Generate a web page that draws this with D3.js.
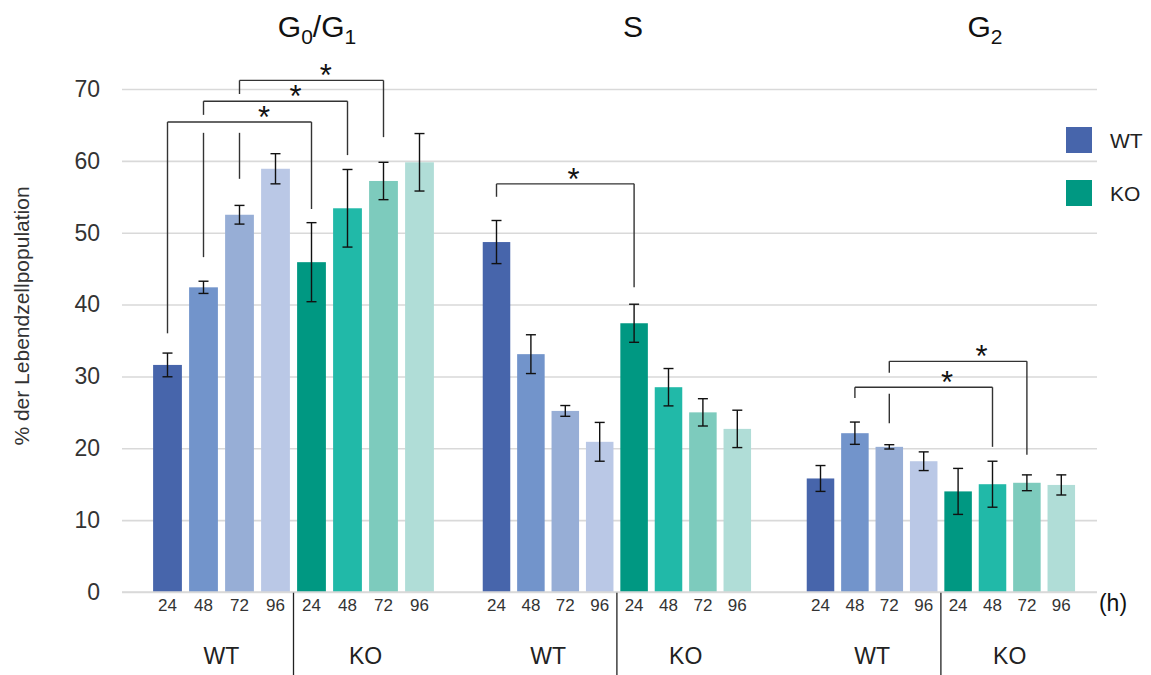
<!DOCTYPE html>
<html>
<head>
<meta charset="utf-8">
<script src="https://cdn.jsdelivr.net/npm/d3@7"></script>
<style>
  body { margin: 0; background: #fff; }
  text { font-family: "Liberation Sans", Arial, sans-serif; }
</style>
</head>
<body>
<div id="chart"></div>
<script>
// ---- data ----
var hours = ["24", "48", "72", "96"];
var genotypes = ["WT", "KO"];
var yTicks = [0, 10, 20, 30, 40, 50, 60, 70];

// order: WT 24,48,72,96 then KO 24,48,72,96
var g0g1Mean = [31.6, 42.4, 52.5, 58.9, 45.9, 53.4, 57.2, 59.8];
var g0g1Err  = [1.65, 0.85, 1.3, 2.1, 5.5, 5.4, 2.6, 4.0];
var sMean    = [48.7, 33.1, 25.2, 20.9, 37.4, 28.5, 25.0, 22.7];
var sErr     = [3.0, 2.7, 0.75, 2.7, 2.65, 2.6, 1.9, 2.6];
var g2Mean   = [15.8, 22.1, 20.2, 18.2, 14.0, 15.0, 15.2, 14.9];
var g2Err    = [1.8, 1.55, 0.3, 1.3, 3.2, 3.2, 1.1, 1.4];

// significance brackets (values in % units)
// panel, from bar, to bar, level, left leg end, right leg end, gap on left leg [top, bottom], star position along bracket
var brackets = [
  {panel: 0, from: 0, to: 4, level: 65.4, left: 36.0, right: 53.3, gap: null, star: 0.67},
  {panel: 0, from: 1, to: 5, level: 68.3, left: 46.6, right: 60.8, gap: [66.4, 63.9], star: 0.64},
  {panel: 0, from: 2, to: 6, level: 71.2, left: 57.5, right: 63.3, gap: [69.3, 63.9], star: 0.6},
  {panel: 1, from: 0, to: 4, level: 56.8, left: 55.0, right: 42.4, gap: null, star: 0.56},
  {panel: 2, from: 1, to: 5, level: 28.5, left: 27.0, right: 20.2, gap: null, star: 0.67},
  {panel: 2, from: 2, to: 6, level: 32.1, left: 23.5, right: 19.1, gap: [30.5, 27.6], star: 0.67}
];

var colors = ["#4765ab", "#7294cb", "#97aed6", "#bac8e6",
              "#009882", "#21b9a8", "#7dcbbd", "#b0ddd7"];

// ---- layout ----
var W = 1151, H = 675;
var svg = d3.select("#chart").append("svg")
    .attr("width", W)
    .attr("height", H);

var y = d3.scaleLinear().domain([0, 70]).range([592, 89]);
var gridLeft = 122, gridRight = 1097;

var panels = [
  {mean: g0g1Mean, err: g0g1Err, range: [149.5, 437.5], titleX: 317},
  {mean: sMean, err: sErr, range: [479.3, 754.5], titleX: 633},
  {mean: g2Mean, err: g2Err, range: [803.3, 1078.5], titleX: 985}
];

var keys = [];
genotypes.forEach(function(g) { hours.forEach(function(h) { keys.push(g + h); }); });

// grid + y axis
var yAxis = svg.append("g")
    .attr("transform", "translate(" + gridLeft + ",0)")
    .call(d3.axisLeft(y).tickValues(yTicks).tickSize(-(gridRight - gridLeft)).tickPadding(22));
yAxis.select(".domain").remove();
yAxis.selectAll(".tick line").attr("stroke", "#d9d9d9").attr("stroke-width", 1.6);
yAxis.selectAll(".tick text")
    .attr("font-size", 23)
    .attr("fill", "#333");

svg.append("text")
    .attr("transform", "translate(29,316)rotate(-90)")
    .attr("text-anchor", "middle")
    .attr("font-size", 21)
    .attr("fill", "#333")
    .text("% der Lebendzellpopulation");

panels.forEach(function(p, pi) {
  var x = d3.scaleBand().domain(keys).range(p.range).paddingInner(0.2).paddingOuter(0.1);
  p.x = x;
  var data = keys.map(function(k, i) { return {key: k, mean: p.mean[i], err: p.err[i], i: i}; });

  var g = svg.append("g");
  g.selectAll("rect.bar")
    .data(data)
    .enter().append("rect")
      .attr("class", "bar")
      .attr("x", function(d) { return x(d.key); })
      .attr("width", x.bandwidth())
      .attr("y", function(d) { return y(d.mean); })
      .attr("height", function(d) { return y(0) - y(d.mean); })
      .attr("fill", function(d) { return colors[d.i]; });

  // error bars
  var eb = g.selectAll("g.err")
    .data(data)
    .enter().append("g")
      .attr("class", "err")
      .attr("stroke", "#111")
      .attr("stroke-width", 1.4);
  var cx = function(d) { return x(d.key) + x.bandwidth() / 2; };
  eb.append("line")
    .attr("x1", cx).attr("x2", cx)
    .attr("y1", function(d) { return y(d.mean + d.err); })
    .attr("y2", function(d) { return y(d.mean - d.err); });
  eb.append("line")
    .attr("x1", function(d) { return cx(d) - 5; }).attr("x2", function(d) { return cx(d) + 5; })
    .attr("y1", function(d) { return y(d.mean + d.err); })
    .attr("y2", function(d) { return y(d.mean + d.err); });
  eb.append("line")
    .attr("x1", function(d) { return cx(d) - 5; }).attr("x2", function(d) { return cx(d) + 5; })
    .attr("y1", function(d) { return y(d.mean - d.err); })
    .attr("y2", function(d) { return y(d.mean - d.err); });

  // hour labels
  var xa = svg.append("g")
      .attr("transform", "translate(0," + y(0) + ")")
      .call(d3.axisBottom(x).tickSize(0).tickPadding(7).tickFormat(function(k) { return k.slice(2); }));
  xa.select(".domain").remove();
  xa.selectAll(".tick text").attr("font-size", 17).attr("fill", "#333");

  // divider and genotype labels
  var divX = (x(keys[3]) + x.bandwidth() + x(keys[4])) / 2;
  svg.append("line")
    .attr("x1", divX).attr("x2", divX)
    .attr("y1", y(0)).attr("y2", H)
    .attr("stroke", "#222").attr("stroke-width", 1.3);
  genotypes.forEach(function(gt, gi) {
    var a = x(keys[gi * 4]), b = x(keys[gi * 4 + 3]) + x.bandwidth();
    svg.append("text")
      .attr("x", (a + b) / 2)
      .attr("y", 664)
      .attr("text-anchor", "middle")
      .attr("font-size", 23)
      .attr("fill", "#222")
      .text(gt);
  });
});

// zero line on top
svg.append("line")
  .attr("x1", gridLeft).attr("x2", gridRight)
  .attr("y1", y(0)).attr("y2", y(0))
  .attr("stroke", "#d9d9d9").attr("stroke-width", 1.6);

// titles
function title(xp, parts) {
  var t = svg.append("text")
    .attr("x", xp).attr("y", 37)
    .attr("text-anchor", "middle")
    .attr("font-size", 30)
    .attr("fill", "#111");
  parts.forEach(function(s) {
    if (s.sub) {
      t.append("tspan").attr("font-size", 21).attr("dy", 7).text(s.t);
    } else {
      t.append("tspan").attr("dy", s.after ? -7 : 0).text(s.t);
    }
  });
}
title(panels[0].titleX, [{t: "G"}, {t: "0", sub: true}, {t: "/G", after: true}, {t: "1", sub: true}]);
title(panels[1].titleX, [{t: "S"}]);
title(panels[2].titleX, [{t: "G"}, {t: "2", sub: true}]);

// brackets
brackets.forEach(function(b) {
  var x = panels[b.panel].x;
  var x1 = x(keys[b.from]) + x.bandwidth() / 2;
  var x2 = x(keys[b.to]) + x.bandwidth() / 2;
  var g = svg.append("g").attr("stroke", "#333").attr("stroke-width", 1.4).attr("fill", "none");
  g.append("line").attr("x1", x1).attr("x2", x2).attr("y1", y(b.level)).attr("y2", y(b.level));
  g.append("line").attr("x1", x2).attr("x2", x2).attr("y1", y(b.level)).attr("y2", y(b.right));
  if (b.gap) {
    g.append("line").attr("x1", x1).attr("x2", x1).attr("y1", y(b.level)).attr("y2", y(b.gap[0]));
    g.append("line").attr("x1", x1).attr("x2", x1).attr("y1", y(b.gap[1])).attr("y2", y(b.left));
  } else {
    g.append("line").attr("x1", x1).attr("x2", x1).attr("y1", y(b.level)).attr("y2", y(b.left));
  }
  svg.append("text")
    .attr("x", x1 + (x2 - x1) * b.star)
    .attr("y", y(b.level) + 6)
    .attr("text-anchor", "middle")
    .attr("font-size", 31)
    .attr("fill", "#111")
    .text("*");
});

// (h)
svg.append("text")
  .attr("x", 1113).attr("y", 611)
  .attr("text-anchor", "middle")
  .attr("font-size", 23)
  .attr("fill", "#111")
  .text("(h)");

// legend
genotypes.forEach(function(gt, i) {
  svg.append("rect")
    .attr("x", 1066).attr("y", 127 + i * 53)
    .attr("width", 26).attr("height", 26)
    .attr("fill", colors[i * 4]);
  svg.append("text")
    .attr("x", 1110).attr("y", 148 + i * 53)
    .attr("font-size", 21)
    .attr("fill", "#222")
    .text(gt);
});
</script>
</body>
</html>
